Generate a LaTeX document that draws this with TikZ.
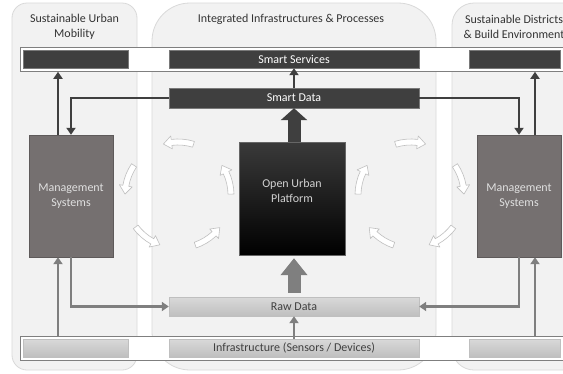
\documentclass[tikz,border=0pt]{standalone}
\usepackage{fontspec}
\setmainfont{Carlito}
\usetikzlibrary{arrows.meta,calc}
\definecolor{panel}{HTML}{F2F2F2}
\definecolor{panelline}{HTML}{D9D9D9}
\definecolor{darkc}{HTML}{3F3F3F}
\definecolor{msfill}{RGB}{117,112,112}
\definecolor{conngray}{HTML}{7F7F7F}
\definecolor{lighttop}{HTML}{D9D9D9}
\definecolor{lightbot}{HTML}{BFBFBF}
\definecolor{lighttext}{HTML}{404040}
\definecolor{oupgray}{HTML}{3A3A3A}
\definecolor{cycline}{HTML}{BFBFBF}
\tikzset{
  txt/.style={font=\fontsize{12}{15}\selectfont, align=center},
  panelbox/.style={fill=panel, draw=panelline, line width=0.8pt},
  rowframe/.style={fill=white, draw=conngray, line width=0.8pt, inner sep=0pt},
  darkbar/.style={txt, fill=darkc, draw=darkc!70!white, line width=0.4pt, text=white, inner sep=0pt},
  lightbar/.style={txt, top color=lighttop, bottom color=lightbot, draw=lightbot, line width=0.4pt, text=lighttext, inner sep=0pt},
  msbox/.style={txt, fill=msfill, draw=msfill!80!black, line width=0.4pt, text=white!88!black, minimum width=84pt, minimum height=122pt, inner sep=0pt},
  oupbox/.style={txt, top color=oupgray, middle color=black, bottom color=black, draw=black!60, line width=0.4pt, text=white!82!black, minimum width=106pt, minimum height=113pt, inner sep=0pt},
  titletxt/.style={txt, text=black!80},
  darkconn/.style={draw=darkc, line width=2.6pt, -{Triangle[width=9pt,length=7pt]}},
  grayconn/.style={draw=conngray, line width=2.6pt, -{Triangle[width=9pt,length=7pt]}},
  cycstyle/.style={fill=white, draw=cycline, line width=0.6pt, line join=round},
}
\newcommand{\cycarrow}[4]{%
  \pgfmathsetmacro{\cycb}{#4-9*sign(#4-#3)}%
  \begin{scope}[shift={(#1,#2)}]
    \filldraw[cycstyle] (#3:56) arc[start angle=#3, end angle=\cycb, radius=56]
      -- (\cycb:59.5) -- (#4:53) -- (\cycb:46.5) -- (\cycb:50)
      arc[start angle=\cycb, end angle=#3, radius=50] -- cycle;
  \end{scope}}
\begin{document}
\begin{tikzpicture}[x=1pt,y=-1pt]
\useasboundingbox (0,0) rectangle (563,373);
\clip (0,0) rectangle (563,373);
\fill[white] (0,0) rectangle (563,373);
% panels
\draw[panelbox, rounded corners=15pt] (12,3) rectangle (137,370);
\draw[panelbox, rounded corners=38pt] (152,3) rectangle (436,370);
\draw[panelbox, rounded corners=22pt] (452,3) rectangle (640,370);
% titles
\node[titletxt] (t1) at (74.5,26.5) {Sustainable Urban\\Mobility};
\node[titletxt] (t2) at (291,19) {Integrated Infrastructures \& Processes};
\node[titletxt] (t3) at (514,26.5) {Sustainable Districts\\\& Build Environment};
% cycle arrows
\cycarrow{178}{195}{-73}{-106}
\cycarrow{178}{195}{-146}{-179}
\cycarrow{178}{195}{-217}{-250}
\cycarrow{178}{195}{-289}{-322}
\cycarrow{178}{195}{-361}{-394}
\cycarrow{411}{195}{253}{286}
\cycarrow{411}{195}{326}{359}
\cycarrow{411}{195}{397}{430}
\cycarrow{411}{195}{469}{502}
\cycarrow{411}{195}{541}{574}
% top row
\node[rowframe, anchor=north west, minimum width=580pt, minimum height=24pt] (svcrow) at (20,47) {};
\node[darkbar, minimum width=105pt, minimum height=18pt] (svcl) at (75.5,59) {};
\node[darkbar, minimum width=250pt, minimum height=18pt] (svc) at (294,59) {Smart Services};
\node[darkbar, minimum width=91pt, minimum height=18pt] (svcr) at (514.5,59) {};
\node[darkbar, minimum width=250pt, minimum height=20pt] (sd) at (294,98) {Smart Data};
% central boxes
\node[msbox] (msl) at (71,196) {Management\\Systems};
\node[msbox] (msr) at (519,196) {Management\\Systems};
\node[oupbox] (oup) at (292,198.5) {Open Urban\\Platform\\\mbox{}};
% bottom
\node[lightbar, minimum width=250pt, minimum height=19pt] (raw) at (294,306.5) {Raw Data};
\node[rowframe, anchor=north west, minimum width=580pt, minimum height=24pt] (infrow) at (20,336) {};
\node[lightbar, minimum width=105pt, minimum height=18pt] (infl) at (75.5,348) {};
\node[lightbar, minimum width=250pt, minimum height=18pt] (inf) at (294,348) {Infrastructure (Sensors / Devices)};
\node[lightbar, minimum width=91pt, minimum height=18pt] (infr) at (514.5,348) {};
% helper coordinates
\coordinate (lut) at ($(msl.north)+(-13,0)$);
\coordinate (lub) at ($(msl.south)+(-13,0)$);
\coordinate (rut) at ($(msr.north)+(16,0)$);
\coordinate (rub) at ($(msr.south)+(16,0)$);
% dark connectors
\draw[darkconn] (sd.west) -| (msl.north);
\draw[darkconn] (sd.east) -| (msr.north);
\draw[darkconn] (lut) -- (lut |- svcrow.south);
\draw[darkconn] (rut) -- (rut |- svcrow.south);
\draw[darkconn, line width=2pt] (sd.north) -- (svc.south);
% gray connectors
\draw[grayconn] (msl.south) |- (raw.west);
\draw[grayconn] (msr.south) |- (raw.east);
\draw[grayconn] (lub |- infrow.north) -- (lub);
\draw[grayconn] (rub |- infrow.north) -- (rub);
\draw[grayconn, line width=2pt] (inf.north) -- (raw.south);
% block arrows
\draw[draw=darkc, line width=13pt, -{Triangle[width=26pt,length=12pt]}] (sd.south |- oup.north) -- (sd.south);
\draw[draw=conngray, line width=13pt, -{Triangle[width=26pt,length=17pt]}, shorten <=4pt, shorten >=3pt] (raw.north) -- (raw.north |- oup.south);
\end{tikzpicture}
\end{document}
